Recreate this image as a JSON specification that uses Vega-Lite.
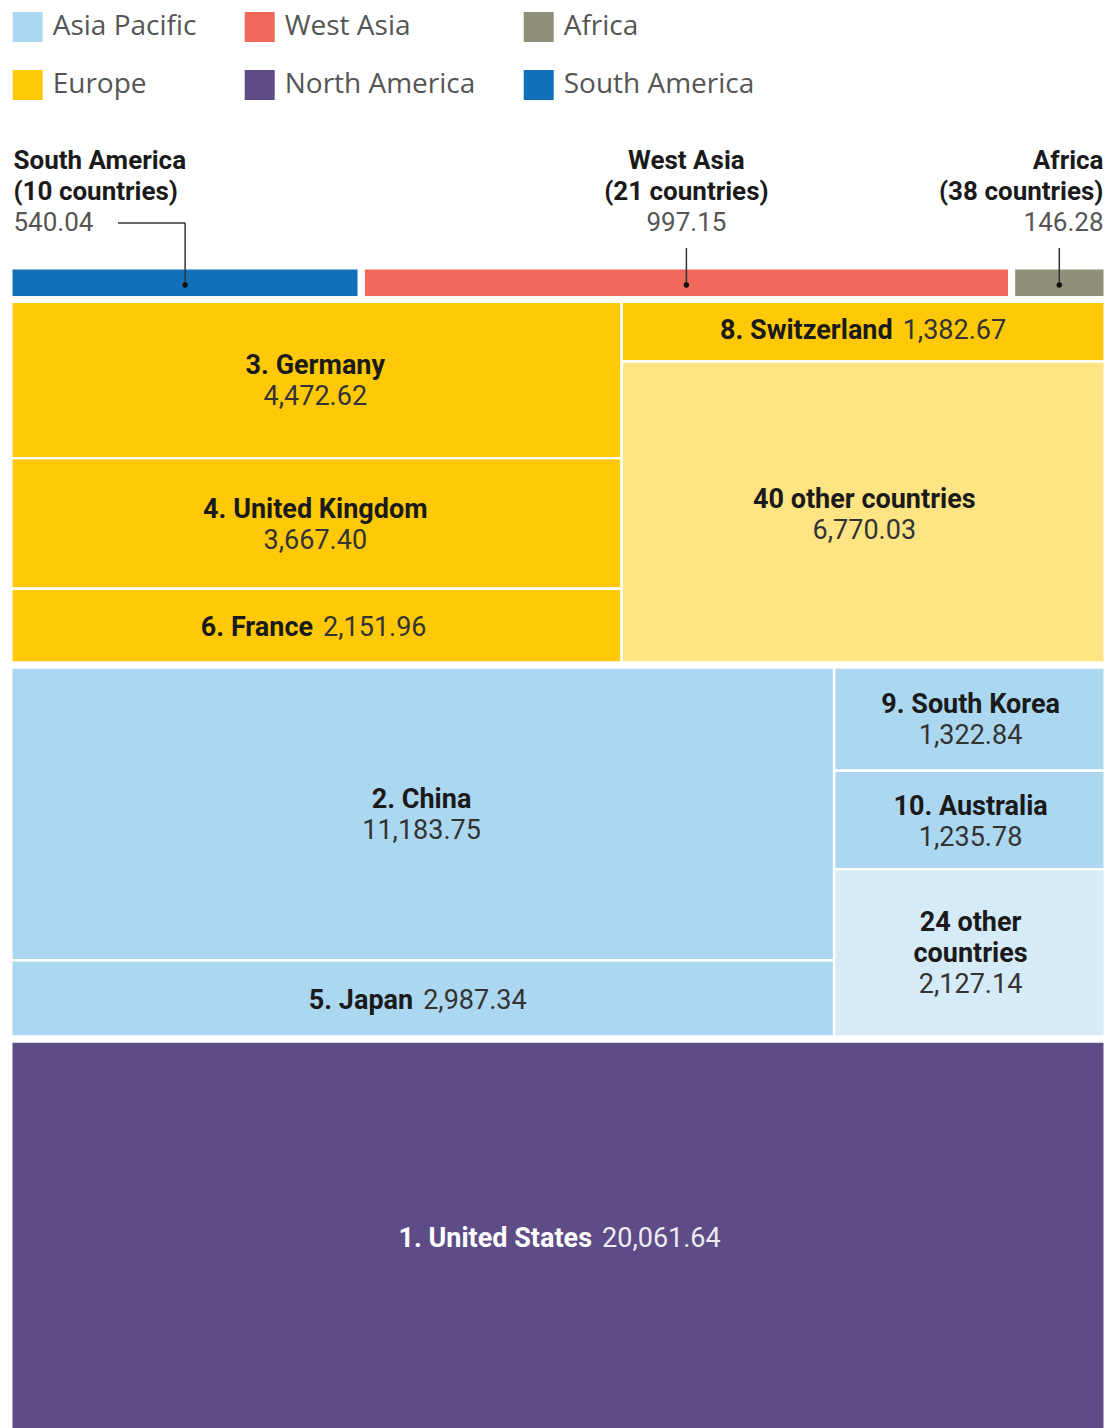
{
  "$schema": "https://vega.github.io/schema/vega-lite/v6.json",
  "width": 1098,
  "height": 1162,
  "autosize": {"type": "none"},
  "padding": {"left": 9, "top": 266, "right": 7, "bottom": 0},
  "background": "white",
  "config": {"view": {"stroke": null}},
  "data": {
    "values": [
      {"group": "Other regions", "block": "South America", "region": "South America", "name": "South America", "countries": 10, "value": 540.04},
      {"group": "Other regions", "block": "West Asia", "region": "West Asia", "name": "West Asia", "countries": 21, "value": 997.15},
      {"group": "Other regions", "block": "Africa", "region": "Africa", "name": "Africa", "countries": 38, "value": 146.28},
      {"group": "Europe", "block": "Europe A", "region": "Europe", "name": "3. Germany", "value": 4472.62},
      {"group": "Europe", "block": "Europe A", "region": "Europe", "name": "4. United Kingdom", "value": 3667.40},
      {"group": "Europe", "block": "Europe A", "region": "Europe", "name": "6. France", "value": 2151.96},
      {"group": "Europe", "block": "Europe B", "region": "Europe", "name": "8. Switzerland", "value": 1382.67},
      {"group": "Europe", "block": "Europe B", "region": "Europe", "name": "40 other countries", "value": 6770.03},
      {"group": "Asia Pacific", "block": "Asia A", "region": "Asia Pacific", "name": "2. China", "value": 11183.75},
      {"group": "Asia Pacific", "block": "Asia A", "region": "Asia Pacific", "name": "5. Japan", "value": 2987.34},
      {"group": "Asia Pacific", "block": "Asia B", "region": "Asia Pacific", "name": "9. South Korea", "value": 1322.84},
      {"group": "Asia Pacific", "block": "Asia B", "region": "Asia Pacific", "name": "10. Australia", "value": 1235.78},
      {"group": "Asia Pacific", "block": "Asia B", "region": "Asia Pacific", "name": "24 other countries", "value": 2127.14},
      {"group": "North America", "block": "North America", "region": "North America", "name": "1. United States", "value": 20061.64}
    ]
  },
  "transform": [
    {"window": [{"op": "row_number", "as": "idx"}]},
    {"window": [{"op": "sum", "field": "value", "as": "cumAll"}], "sort": [{"field": "idx", "order": "ascending"}], "frame": [null, 0]},
    {"calculate": "datum.cumAll - datum.value", "as": "beforeAll"},
    {"joinaggregate": [{"op": "min", "field": "beforeAll", "as": "bandStart"}, {"op": "sum", "field": "value", "as": "bandTotal"}], "groupby": ["group"]},
    {"window": [{"op": "sum", "field": "value", "as": "cumBand"}], "sort": [{"field": "idx", "order": "ascending"}], "groupby": ["group"], "frame": [null, 0]},
    {"calculate": "datum.cumBand - datum.value", "as": "beforeBand"},
    {"joinaggregate": [{"op": "min", "field": "beforeBand", "as": "colStart"}, {"op": "sum", "field": "value", "as": "colTotal"}], "groupby": ["group", "block"]},
    {"window": [{"op": "sum", "field": "value", "as": "cumCol"}], "sort": [{"field": "idx", "order": "ascending"}], "groupby": ["group", "block"], "frame": [null, 0]},
    {"calculate": "datum.colStart / datum.bandTotal", "as": "x0"},
    {"calculate": "(datum.colStart + datum.colTotal) / datum.bandTotal", "as": "x1"},
    {"calculate": "datum.bandStart + (datum.cumCol - datum.value) / datum.colTotal * datum.bandTotal", "as": "y0"},
    {"calculate": "datum.bandStart + datum.cumCol / datum.colTotal * datum.bandTotal", "as": "y1"},
    {"calculate": "(datum.x0 + datum.x1) / 2", "as": "xc"},
    {"calculate": "(datum.y0 + datum.y1) / 2", "as": "yc"},
    {"calculate": "format(datum.value, ',.2f')", "as": "valStr"},
    {"calculate": "datum.group !== 'Other regions' && ((datum.y1 - datum.y0) < 4500 || (datum.x1 - datum.x0) > 0.99)", "as": "inline"},
    {"calculate": "length(datum.name) * 12 > (datum.x1 - datum.x0) * 1098 - 80", "as": "wrap"},
    {"calculate": "[substring(datum.name, 0, lastindexof(datum.name, ' ')), substring(datum.name, lastindexof(datum.name, ' ') + 1)]", "as": "nameLines"},
    {"calculate": "datum.xc + (length(datum.name) * 12.25 - length(datum.valStr) * 13.1) / 2 / 1098", "as": "xSplit"},
    {"calculate": "[datum.name, '(' + datum.countries + ' countries)']", "as": "annName"}
  ],
  "layer": [
    {
      "mark": {"type": "rect", "stroke": "white", "strokeWidth": 2.5},
      "encoding": {
        "x": {"field": "x0", "type": "quantitative", "scale": {"domain": [0, 1], "nice": false, "zero": false}, "axis": null},
        "x2": {"field": "x1"},
        "y": {"field": "y0", "type": "quantitative", "scale": {"domain": [0, 58604], "nice": false, "zero": false, "reverse": true}, "axis": null},
        "y2": {"field": "y1"},
        "fill": {
          "field": "region", "type": "nominal",
          "scale": {
            "domain": ["Asia Pacific", "West Asia", "Africa", "Europe", "North America", "South America"],
            "range": ["#ABD7F0", "#F06859", "#908F7A", "#FFC907", "#5D4C86", "#1170B8"]
          },
          "legend": {
            "orient": "none", "legendX": 3.7, "legendY": -254, "direction": "horizontal", "columns": 3,
            "title": null, "symbolType": "square", "symbolSize": 900, "symbolStrokeWidth": 0, "symbolOpacity": 1,
            "labelFont": "Open Sans", "labelFontSize": 28, "labelColor": "#555555", "labelOffset": 10,
            "columnPadding": 48, "rowPadding": 28, "padding": 0, "labelLimit": 400
          }
        },
        "fillOpacity": {"condition": {"test": "indexof(datum.name, 'other') >= 0", "value": 0.5}, "value": 1}
      }
    },
    {
      "transform": [
        {"aggregate": [
          {"op": "min", "field": "x0", "as": "rx0"},
          {"op": "max", "field": "x1", "as": "rx1"},
          {"op": "min", "field": "y0", "as": "ry0"},
          {"op": "max", "field": "y1", "as": "ry1"}
        ], "groupby": ["region"]}
      ],
      "mark": {"type": "rect", "fill": "white", "fillOpacity": 0, "stroke": "white", "strokeWidth": 7},
      "encoding": {
        "x": {"field": "rx0", "type": "quantitative", "axis": null},
        "x2": {"field": "rx1"},
        "y": {"field": "ry0", "type": "quantitative", "axis": null},
        "y2": {"field": "ry1"}
      }
    },
    {
      "transform": [{"filter": "datum.group !== 'Other regions' && !datum.inline && !datum.wrap"}],
      "mark": {"type": "text", "font": "Roboto", "fontSize": 27, "fontWeight": "bold", "align": "center", "baseline": "middle", "dy": -13},
      "encoding": {
        "x": {"field": "xc", "type": "quantitative", "axis": null},
        "y": {"field": "yc", "type": "quantitative", "axis": null},
        "text": {"field": "name", "type": "nominal"},
        "fill": {"condition": {"test": "datum.region === 'North America'", "value": "#FFFFFF"}, "value": "#1A1A1A"}
      }
    },
    {
      "transform": [{"filter": "datum.group !== 'Other regions' && !datum.inline && !datum.wrap"}],
      "mark": {"type": "text", "font": "Roboto", "fontSize": 27, "fontWeight": "normal", "align": "center", "baseline": "middle", "dy": 18},
      "encoding": {
        "x": {"field": "xc", "type": "quantitative", "axis": null},
        "y": {"field": "yc", "type": "quantitative", "axis": null},
        "text": {"field": "valStr", "type": "nominal"},
        "fill": {"condition": {"test": "datum.region === 'North America'", "value": "#EDEBF3"}, "value": "#333333"}
      }
    },
    {
      "transform": [{"filter": "datum.group !== 'Other regions' && !datum.inline && datum.wrap"}],
      "mark": {"type": "text", "font": "Roboto", "fontSize": 27, "fontWeight": "bold", "align": "center", "baseline": "middle", "lineHeight": 31, "dy": -31},
      "encoding": {
        "x": {"field": "xc", "type": "quantitative", "axis": null},
        "y": {"field": "yc", "type": "quantitative", "axis": null},
        "text": {"field": "nameLines", "type": "nominal"},
        "fill": {"value": "#1A1A1A"}
      }
    },
    {
      "transform": [{"filter": "datum.group !== 'Other regions' && !datum.inline && datum.wrap"}],
      "mark": {"type": "text", "font": "Roboto", "fontSize": 27, "fontWeight": "normal", "align": "center", "baseline": "middle", "dy": 31},
      "encoding": {
        "x": {"field": "xc", "type": "quantitative", "axis": null},
        "y": {"field": "yc", "type": "quantitative", "axis": null},
        "text": {"field": "valStr", "type": "nominal"},
        "fill": {"value": "#333333"}
      }
    },
    {
      "transform": [{"filter": "datum.inline"}],
      "mark": {"type": "text", "font": "Roboto", "fontSize": 27, "fontWeight": "bold", "align": "right", "baseline": "middle", "dx": -5, "dy": 1},
      "encoding": {
        "x": {"field": "xSplit", "type": "quantitative", "axis": null},
        "y": {"field": "yc", "type": "quantitative", "axis": null},
        "text": {"field": "name", "type": "nominal"},
        "fill": {"condition": {"test": "datum.region === 'North America'", "value": "#FFFFFF"}, "value": "#1A1A1A"}
      }
    },
    {
      "transform": [{"filter": "datum.inline"}],
      "mark": {"type": "text", "font": "Roboto", "fontSize": 27, "fontWeight": "normal", "align": "left", "baseline": "middle", "dx": 5, "dy": 1},
      "encoding": {
        "x": {"field": "xSplit", "type": "quantitative", "axis": null},
        "y": {"field": "yc", "type": "quantitative", "axis": null},
        "text": {"field": "valStr", "type": "nominal"},
        "fill": {"condition": {"test": "datum.region === 'North America'", "value": "#EDEBF3"}, "value": "#333333"}
      }
    },
    {
      "transform": [{"filter": "datum.region === 'South America'"}],
      "mark": {"type": "text", "font": "Roboto", "fontSize": 26, "fontWeight": "bold", "align": "left", "baseline": "middle", "lineHeight": 31, "dx": 4.5, "dy": -105, "fill": "#1A1A1A"},
      "encoding": {
        "x": {"field": "x0", "type": "quantitative", "axis": null},
        "y": {"field": "y0", "type": "quantitative", "axis": null},
        "text": {"field": "annName", "type": "nominal"}
      }
    },
    {
      "transform": [{"filter": "datum.region === 'South America'"}],
      "mark": {"type": "text", "font": "Roboto", "fontSize": 26, "fontWeight": "normal", "align": "left", "baseline": "middle", "dx": 4.5, "dy": -43, "fill": "#555555"},
      "encoding": {
        "x": {"field": "x0", "type": "quantitative", "axis": null},
        "y": {"field": "y0", "type": "quantitative", "axis": null},
        "text": {"field": "valStr", "type": "nominal"}
      }
    },
    {
      "transform": [{"filter": "datum.region === 'West Asia'"}],
      "mark": {"type": "text", "font": "Roboto", "fontSize": 26, "fontWeight": "bold", "align": "center", "baseline": "middle", "lineHeight": 31, "dy": -105, "fill": "#1A1A1A"},
      "encoding": {
        "x": {"field": "xc", "type": "quantitative", "axis": null},
        "y": {"field": "y0", "type": "quantitative", "axis": null},
        "text": {"field": "annName", "type": "nominal"}
      }
    },
    {
      "transform": [{"filter": "datum.region === 'West Asia'"}],
      "mark": {"type": "text", "font": "Roboto", "fontSize": 26, "fontWeight": "normal", "align": "center", "baseline": "middle", "dy": -43, "fill": "#555555"},
      "encoding": {
        "x": {"field": "xc", "type": "quantitative", "axis": null},
        "y": {"field": "y0", "type": "quantitative", "axis": null},
        "text": {"field": "valStr", "type": "nominal"}
      }
    },
    {
      "transform": [{"filter": "datum.region === 'Africa'"}],
      "mark": {"type": "text", "font": "Roboto", "fontSize": 26, "fontWeight": "bold", "align": "right", "baseline": "middle", "lineHeight": 31, "dx": -3.5, "dy": -105, "fill": "#1A1A1A"},
      "encoding": {
        "x": {"field": "x1", "type": "quantitative", "axis": null},
        "y": {"field": "y0", "type": "quantitative", "axis": null},
        "text": {"field": "annName", "type": "nominal"}
      }
    },
    {
      "transform": [{"filter": "datum.region === 'Africa'"}],
      "mark": {"type": "text", "font": "Roboto", "fontSize": 26, "fontWeight": "normal", "align": "right", "baseline": "middle", "dx": -3.5, "dy": -43, "fill": "#555555"},
      "encoding": {
        "x": {"field": "x1", "type": "quantitative", "axis": null},
        "y": {"field": "y0", "type": "quantitative", "axis": null},
        "text": {"field": "valStr", "type": "nominal"}
      }
    },
    {
      "transform": [{"filter": "datum.region === 'West Asia' || datum.region === 'Africa'"}],
      "mark": {"type": "rule", "color": "#333333", "strokeWidth": 1.5, "yOffset": -18, "y2Offset": 2.3},
      "encoding": {
        "x": {"field": "xc", "type": "quantitative", "axis": null},
        "y": {"field": "y0", "type": "quantitative", "axis": null},
        "y2": {"field": "yc"}
      }
    },
    {
      "transform": [{"filter": "datum.region === 'South America'"}],
      "mark": {"type": "rule", "color": "#333333", "strokeWidth": 1.5, "yOffset": -43, "y2Offset": 2.3},
      "encoding": {
        "x": {"field": "xc", "type": "quantitative", "axis": null},
        "y": {"field": "y0", "type": "quantitative", "axis": null},
        "y2": {"field": "yc"}
      }
    },
    {
      "transform": [{"filter": "datum.region === 'South America'"}],
      "mark": {"type": "rule", "color": "#333333", "strokeWidth": 1.5, "xOffset": 109, "yOffset": -43},
      "encoding": {
        "x": {"field": "x0", "type": "quantitative", "axis": null},
        "x2": {"field": "xc"},
        "y": {"field": "y0", "type": "quantitative", "axis": null}
      }
    },
    {
      "transform": [{"filter": "datum.group === 'Other regions'"}],
      "mark": {"type": "point", "filled": true, "color": "#111111", "size": 30, "opacity": 1, "yOffset": 2.3},
      "encoding": {
        "x": {"field": "xc", "type": "quantitative", "axis": null},
        "y": {"field": "yc", "type": "quantitative", "axis": null}
      }
    }
  ]
}
